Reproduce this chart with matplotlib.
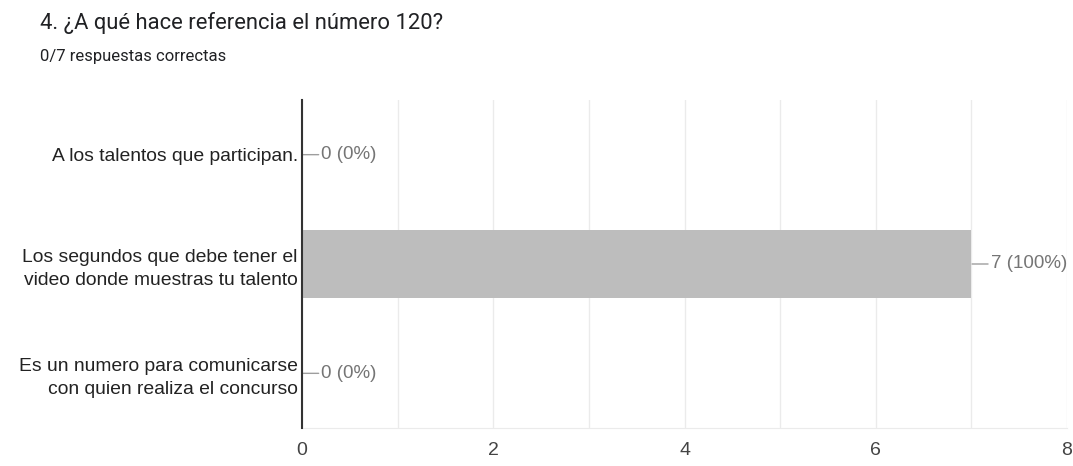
import matplotlib.pyplot as plt
import numpy as np

categories = ['A los talentos que participan.',
              'Los segundos que debe tener el\nvideo donde muestras tu talento',
              'Es un numero para comunicarse\ncon quien realiza el concurso']
counts = [0, 7, 0]
total = 7
x_ticks = [0, 2, 4, 6, 8]

fig = plt.figure(figsize=(10.73, 4.66), dpi=100)
ax = fig.add_axes([302 / 1073, 1 - 428 / 466, (1067 - 302) / 1073, 328 / 466])

y = np.arange(len(categories))
ax.barh(y, counts, height=0.63, color='#bdbdbd', zorder=3)
ax.set_ylim(len(categories) - 0.5, -0.5)
ax.set_xlim(0, 8)

for yi, c in zip(y, counts):
    ax.annotate('{} ({:.0f}%)'.format(c, 100 * c / total), xy=(c, yi),
                xytext=(14, 0), textcoords='offset points', va='center', ha='left',
                fontsize=13.5, color='#757575', family='Liberation Sans',
                arrowprops=dict(arrowstyle='-', color='#9e9e9e', lw=1,
                                shrinkA=0, shrinkB=0.5))

ax.set_yticks(y)
ax.set_yticklabels(categories, fontsize=13.9, color='#222222', family='Liberation Sans',
                   linespacing=1.45)
ax.set_xticks(x_ticks)
ax.set_xticks(np.arange(0, 9, 1), minor=True)
ax.set_xticklabels([str(t) for t in x_ticks], fontsize=14, color='#444444',
                   family='Liberation Sans')
ax.tick_params(axis='both', which='both', length=0, pad=3)
ax.tick_params(axis='x', which='both', pad=10)
ax.grid(axis='x', which='both', color='#ebebeb', lw=1, zorder=0)

for s in ['top', 'right']:
    ax.spines[s].set_visible(False)
ax.spines['bottom'].set_color('#ebebeb')
ax.spines['left'].set_color('#333333')
ax.spines['left'].set_linewidth(1.5)
ax.spines['left'].set_zorder(4)

fig.text(40 / 1073, 1 - 23 / 466, '4. ¿A qué hace referencia el número 120?',
         fontsize=15.8, family='Roboto', color='#202124', va='center')
fig.text(40 / 1073, 1 - 57 / 466, '0/7 respuestas correctas',
         fontsize=12, family='Roboto', color='#202124', va='center')

plt.savefig('out.png', dpi=100)
